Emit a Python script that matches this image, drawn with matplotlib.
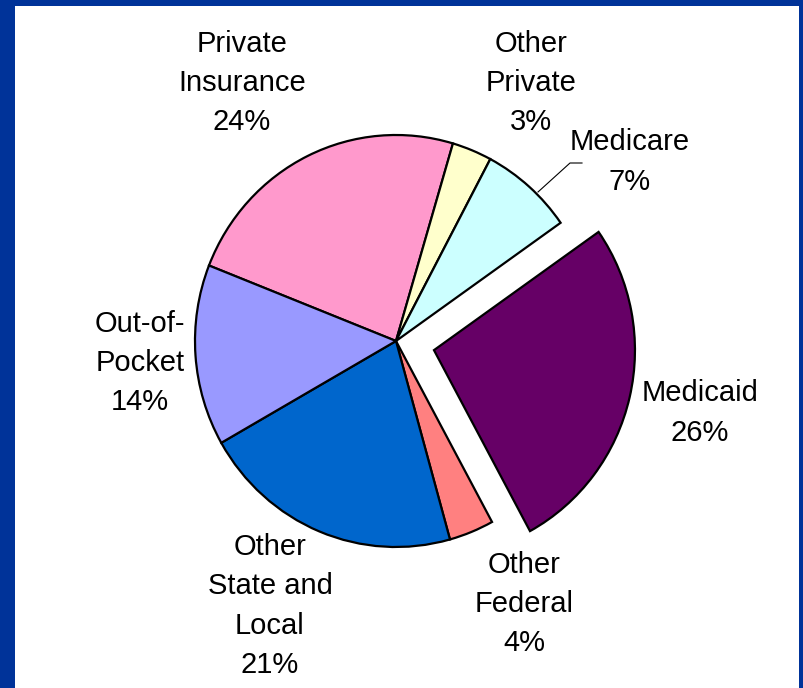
import matplotlib.pyplot as plt
from matplotlib.patches import Rectangle

plt.rcParams['font.family'] = ['Liberation Sans', 'DejaVu Sans']

labels = ["Private\nInsurance", "Other\nPrivate", "Medicare", "Medicaid",
          "Other\nFederal", "Other\nState and\nLocal", "Out-of-\nPocket"]
# printed percentages
pct = [24, 3, 7, 26, 4, 21, 14]
# slice sizes as drawn
shares = [23.6, 3.2, 7.5, 26.8, 3.6, 21.1, 14.2]
colors = ["#FF99CC", "#FFFFCC", "#CCFFFF", "#660066",
          "#FF8080", "#0066CC", "#9999FF"]
explode = [0, 0, 0, 39, 0, 0, 0]  # pie offsets are in data units here

# label centres in pixel coords (x, y from top)
label_xy = [(242, 83), (531, 83), (630, 162), (700, 413),
            (524, 604), (270, 606), (140, 363)]

W, H = 804, 688
k = 206 / 201  # the pie is slightly taller than wide
fig = plt.figure(figsize=(W / 100, H / 100), dpi=100)
fig.patch.set_facecolor("#003399")
ax = fig.add_axes([0, 0, 1, 1])


def py(y):
    # pixel row from top -> data y
    return (H - y) / k


# white slide area inside the blue frame
ax.add_patch(Rectangle((15, 0), 799 - 15, py(6), facecolor="white",
                       edgecolor="none", zorder=0))

cx, cy, r = 396, py(341), 201
wedges, _ = ax.pie(shares, colors=colors, explode=explode, startangle=158.5,
                   counterclock=False, center=(cx, cy), radius=r,
                   wedgeprops=dict(edgecolor="black", linewidth=1.6),
                   frame=True)
ax.set_aspect("auto")
ax.set_xlim(0, W)
ax.set_ylim(0, H / k)
ax.axis("off")

for (lx, ly), lab, val in zip(label_xy, labels, pct):
    ax.text(lx, py(ly), f"{lab}\n{val}%", ha="center", va="center",
            fontsize=21, linespacing=1.52, color="black")

# leader line for Medicare
ax.plot([538, 570, 582], [py(192), py(163), py(163)], color="black", lw=0.8)

fig.savefig("out.png", dpi=100, facecolor=fig.get_facecolor())
